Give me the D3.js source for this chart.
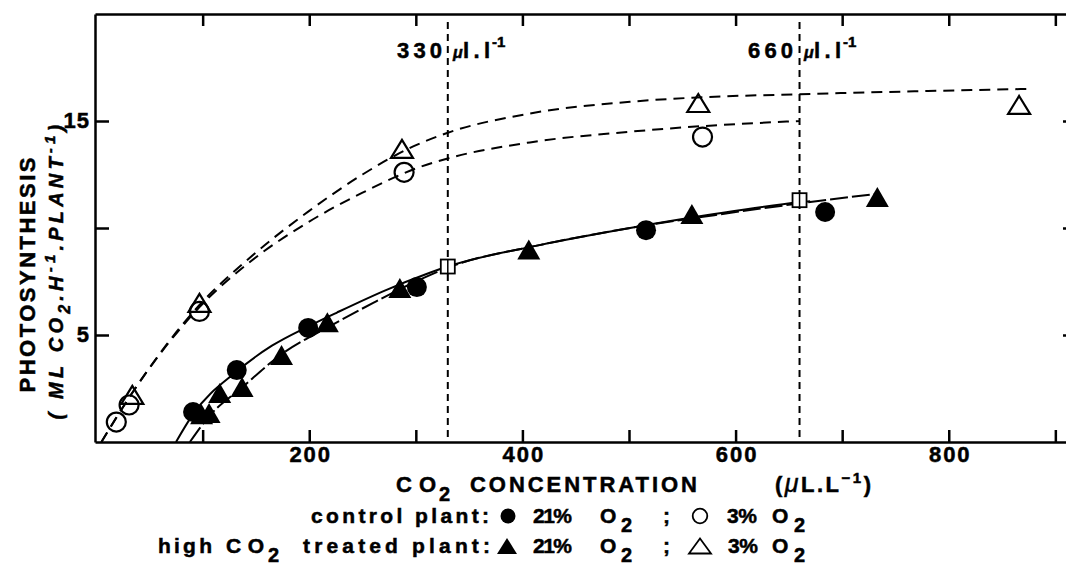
<!DOCTYPE html>
<html>
<head>
<meta charset="utf-8">
<script src="https://cdn.jsdelivr.net/npm/d3@7"></script>
<style>
  body { margin: 0; background: #fff; }
  svg text { font-family: "Liberation Sans", Arial, sans-serif; font-weight: bold; fill: #000; stroke: #000; stroke-width: 0.5; }
</style>
</head>
<body>
<div id="chart"></div>
<script>
var ctrl21X = [91, 132, 199, 301, 516, 684];
var ctrl21Y = [1.4, 3.36, 5.33, 7.24, 9.9, 10.75];
var high21X = [99, 106, 116, 137, 174, 217, 285, 406, 559, 733];
var high21Y = [1.3, 1.35, 2.29, 2.57, 4.07, 5.6, 7.2, 9.0, 10.65, 11.45];
var ctrl3X = [19, 31, 97, 289, 569];
var ctrl3Y = [0.93, 1.73, 6.1, 12.6, 14.25];
var high3X = [34, 97, 287, 565, 866];
var high3Y = [2.2, 6.5, 13.7, 15.84, 15.75];
var refX = [330, 660];
var refY = [8.2, 11.3];

// hand drawn fitted curves
var fitCtrl21 = [[75, 0], [91, 1.3], [132, 3.3], [165, 4.5], [199, 5.4], [226, 6.05], [272, 7.1], [310, 7.85], [330, 8.2], [416, 9.2], [501, 10.0], [580, 10.65], [660, 11.2], [670, 11.25]];
var fitHigh21 = [[88, 0], [106, 1.2], [137, 2.55], [174, 4.1], [217, 5.35], [260, 6.5], [300, 7.5], [330, 8.15], [416, 9.2], [501, 10.0], [580, 10.6], [660, 11.15], [733, 11.6]];
var fitCtrl3 = [[5, 0], [34, 2.3], [97, 6.3], [144, 8.4], [200, 10.3], [250, 11.65], [301, 12.8], [330, 13.25], [407, 14.0], [501, 14.5], [551, 14.7], [660, 15.0]];
var fitHigh3 = [[5, 0], [34, 2.3], [97, 6.4], [144, 8.6], [200, 10.8], [250, 12.5], [297, 13.8], [330, 14.45], [407, 15.35], [501, 15.9], [564, 16.1], [660, 16.25], [875, 16.5]];

var xTicks = [100, 200, 300, 400, 500, 600, 700, 800, 900];
var xLabels = [200, 400, 600, 800];
var yTicks = [5, 10, 15];
var yLabels = [5, 15];
var refLines = [330, 660];

var w = 1066, h = 565;

var svg = d3.select("#chart").append("svg")
  .attr("width", w)
  .attr("height", h);

var xScale = d3.scaleLinear().domain([-1, 910]).range([95, 1066]);
var yScale = d3.scaleLinear().domain([0, 20]).range([442, 14]);

function zip(xs, ys) {
  return xs.map(function(v, i) { return [v, ys[i]]; });
}

// axes
var xAxis = d3.axisBottom(xScale)
  .tickValues(xTicks)
  .tickSizeInner(-12)
  .tickSizeOuter(0)
  .tickPadding(8)
  .tickFormat(function(d) { return xLabels.indexOf(d) >= 0 ? d : ""; });
var xTop = d3.axisTop(xScale).tickValues(xTicks).tickSizeInner(-12).tickSizeOuter(0).tickFormat("");
var yAxis = d3.axisLeft(yScale)
  .tickValues(yTicks)
  .tickSizeInner(-14)
  .tickSizeOuter(0)
  .tickPadding(6)
  .tickFormat(function(d) { return yLabels.indexOf(d) >= 0 ? d : ""; });
var yRight = d3.axisRight(yScale).tickValues(yTicks).tickSizeInner(-6).tickSizeOuter(0).tickFormat("");

svg.append("g").attr("class", "xAxis")
  .attr("transform", "translate(0," + yScale(0) + ")").call(xAxis);
svg.append("g").attr("transform", "translate(0," + yScale(20) + ")").call(xTop);
svg.append("g").attr("class", "yAxis")
  .attr("transform", "translate(" + xScale(-1) + ",0)").call(yAxis);
svg.append("g").attr("transform", "translate(1069,0)").call(yRight);

svg.selectAll(".domain, .tick line").attr("stroke", "#000").attr("stroke-width", 2.5);
svg.selectAll(".tick text").attr("fill", "#000").attr("font-size", 22)
  .attr("font-family", "'Liberation Sans', Arial, sans-serif").attr("font-weight", "bold");
svg.select(".xAxis").selectAll(".tick text").attr("letter-spacing", 2).attr("dx", 1).attr("dy", "0.55em");
svg.select(".yAxis").selectAll(".tick text").attr("dy", "0.3em").attr("x", -5).attr("letter-spacing", 1);

// reference lines
svg.selectAll(".ref").data(refLines).enter().append("line")
  .attr("x1", function(d) { return xScale(d); })
  .attr("x2", function(d) { return xScale(d); })
  .attr("y1", 22).attr("y2", yScale(0))
  .attr("stroke", "#000").attr("stroke-width", 2)
  .attr("stroke-dasharray", "7,5");

// fitted curves
var line = d3.line()
  .x(function(d) { return xScale(d[0]); })
  .y(function(d) { return yScale(d[1]); })
  .curve(d3.curveMonotoneX);

[[fitHigh3, "11,7"], [fitCtrl3, "11,7"], [fitCtrl21, null], [fitHigh21, "18,4"]].forEach(function(c) {
  svg.append("path").datum(c[0])
    .attr("d", line)
    .attr("fill", "none").attr("stroke", "#000").attr("stroke-width", 2)
    .attr("stroke-dasharray", c[1]);
});

function triPath(x, y, tw, th) {
  return "M" + x + "," + (y - th / 2) + "L" + (x + tw / 2) + "," + (y + th / 2) + "L" + (x - tw / 2) + "," + (y + th / 2) + "Z";
}

// markers
svg.selectAll(".openCirc").data(zip(ctrl3X, ctrl3Y)).enter().append("circle")
  .attr("cx", function(d) { return xScale(d[0]); })
  .attr("cy", function(d) { return yScale(d[1]); })
  .attr("r", 9.5).attr("fill", "none").attr("stroke", "#000").attr("stroke-width", 2.2);

svg.selectAll(".openTri").data(zip(high3X, high3Y)).enter().append("path")
  .attr("d", function(d) { return triPath(xScale(d[0]), yScale(d[1]), 22, 18); })
  .attr("fill", "none").attr("stroke", "#000").attr("stroke-width", 2.2)
  .attr("stroke-linejoin", "miter");

svg.selectAll(".fillCirc").data(zip(ctrl21X, ctrl21Y)).enter().append("circle")
  .attr("cx", function(d) { return xScale(d[0]); })
  .attr("cy", function(d) { return yScale(d[1]); })
  .attr("r", 10).attr("fill", "#000");

svg.selectAll(".fillTri").data(zip(high21X, high21Y)).enter().append("path")
  .attr("d", function(d) { return triPath(xScale(d[0]), yScale(d[1]), 23, 20); })
  .attr("fill", "#000");

svg.selectAll(".refSq").data(zip(refX, refY)).enter().append("rect")
  .attr("x", function(d) { return xScale(d[0]) - 7; })
  .attr("y", function(d) { return yScale(d[1]) - 7; })
  .attr("width", 14).attr("height", 14)
  .attr("fill", "#fff").attr("stroke", "#000").attr("stroke-width", 1.8);
svg.selectAll(".refSqLine").data(zip(refX, refY)).enter().append("line")
  .attr("x1", function(d) { return xScale(d[0]); })
  .attr("x2", function(d) { return xScale(d[0]); })
  .attr("y1", function(d) { return yScale(d[1]) - 7; })
  .attr("y2", function(d) { return yScale(d[1]) + 7; })
  .attr("stroke", "#000").attr("stroke-width", 1.5);

// reference line labels
function refLabel(num, x0) {
  svg.append("text").attr("x", x0).attr("y", 58).attr("font-size", 22)
    .attr("textLength", 45).attr("lengthAdjust", "spacing").text(num);
  svg.append("text").attr("x", x0 + 56).attr("y", 58).attr("font-size", 16)
    .attr("font-style", "italic").attr("font-weight", "normal").attr("stroke-width", 0.3).text("\u03bc");
  svg.append("text").attr("x", x0 + 66).attr("y", 58).attr("font-size", 22)
    .attr("textLength", 27).attr("lengthAdjust", "spacing").text("l.l");
  svg.append("text").attr("x", x0 + 95).attr("y", 47).attr("font-size", 15).text("-1");
}
refLabel("330", 397);
refLabel("660", 748);

// y label
svg.append("text")
  .attr("transform", "translate(35,275) rotate(-90)")
  .attr("text-anchor", "middle").attr("font-size", 22)
  .attr("textLength", 235).attr("lengthAdjust", "spacing")
  .text("PHOTOSYNTHESIS");

var yl2 = svg.append("text")
  .attr("transform", "translate(63,270) rotate(-90)")
  .attr("text-anchor", "middle").attr("font-size", 20)
  .attr("font-style", "italic").attr("letter-spacing", 4.2);
yl2.append("tspan").text("( ML CO");
yl2.append("tspan").attr("dy", 7).attr("font-size", 16).text("2");
yl2.append("tspan").attr("dy", -7).text(".H");
yl2.append("tspan").attr("dy", -8).attr("font-size", 15).text("-1");
yl2.append("tspan").attr("dy", 8).text(".PLANT");
yl2.append("tspan").attr("dy", -8).attr("font-size", 15).text("-1");
yl2.append("tspan").attr("dy", 8).text(")");

// x title
function txt(x, y, s, size, len) {
  var t = svg.append("text").attr("x", x).attr("y", y).attr("font-size", size).text(s);
  if (len) t.attr("textLength", len).attr("lengthAdjust", "spacing");
  return t;
}
txt(396, 492, "CO", 22, 40);
txt(439, 501, "2", 20);
txt(470, 492, "CONCENTRATION", 22, 227);
var unit = svg.append("text").attr("x", 775).attr("y", 492).attr("font-size", 22).attr("letter-spacing", 2.5);
unit.append("tspan").text("(");
unit.append("tspan").attr("font-style", "italic").attr("font-weight", "normal").attr("font-size", 25).text("\u03bc");
unit.append("tspan").text("L.L");
unit.append("tspan").attr("dy", -9).attr("font-size", 15).text("\u22121");
unit.append("tspan").attr("dy", 9).text(")");

// legend
txt(311, 523, "control plant:", 21, 178);
svg.append("circle").attr("cx", 508).attr("cy", 516).attr("r", 7.5).attr("fill", "#000");
txt(533, 523, "21%", 21, 39);
txt(600, 523, "O", 21);
txt(621, 532, "2", 20);
txt(663, 523, ";", 21);
svg.append("circle").attr("cx", 700).attr("cy", 516).attr("r", 7.3)
  .attr("fill", "none").attr("stroke", "#000").attr("stroke-width", 1.8);
txt(727, 523, "3%", 21, 30);
txt(772, 523, "O", 21);
txt(794, 532, "2", 20);

txt(158, 553, "high", 21, 54);
txt(226, 553, "CO", 21, 38);
txt(268, 562, "2", 20);
txt(303, 553, "treated plant:", 21, 187);
svg.append("path").attr("d", triPath(507, 546, 20, 16)).attr("fill", "#000");
txt(533, 553, "21%", 21, 39);
txt(600, 553, "O", 21);
txt(621, 562, "2", 20);
txt(663, 553, ";", 21);
svg.append("path").attr("d", triPath(700, 546, 22, 15))
  .attr("fill", "none").attr("stroke", "#000").attr("stroke-width", 1.8);
txt(728, 553, "3%", 21, 30);
txt(772, 553, "O", 21);
txt(794, 562, "2", 20);
</script>
</body>
</html>
